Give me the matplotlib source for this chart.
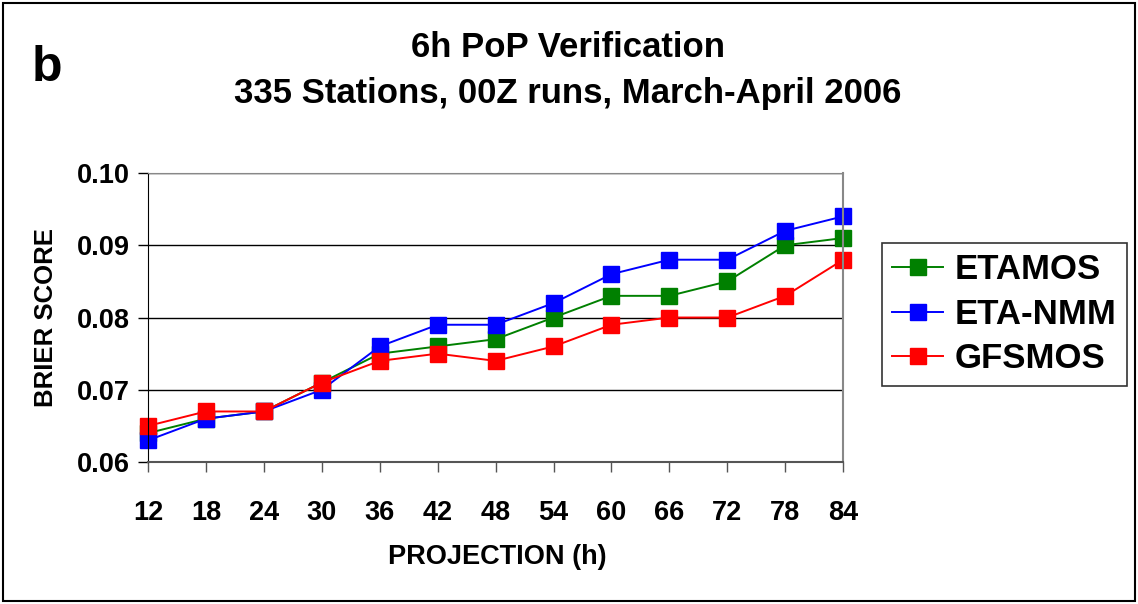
import matplotlib
matplotlib.use("Agg")
import matplotlib.pyplot as plt
from matplotlib.patches import Rectangle

plt.rcParams['font.family'] = ['Liberation Sans', 'DejaVu Sans']
plt.rcParams['font.weight'] = 'bold'

projection = [12, 18, 24, 30, 36, 42, 48, 54, 60, 66, 72, 78, 84]
etamos = [0.064, 0.066, 0.067, 0.071, 0.075, 0.076, 0.077, 0.080, 0.083, 0.083, 0.085, 0.090, 0.091]
eta_nmm = [0.063, 0.066, 0.067, 0.070, 0.076, 0.079, 0.079, 0.082, 0.086, 0.088, 0.088, 0.092, 0.094]
gfsmos = [0.065, 0.067, 0.067, 0.071, 0.074, 0.075, 0.074, 0.076, 0.079, 0.080, 0.080, 0.083, 0.088]
yticks = [0.06, 0.07, 0.08, 0.09, 0.10]

fig = plt.figure(figsize=(11.38, 6.04), dpi=100)
fig.patches.append(Rectangle((0.003, 0.005), 0.994, 0.99, transform=fig.transFigure,
                             fill=False, edgecolor='black', linewidth=1.5))

ax = fig.add_axes([0.130, 0.235, 0.611, 0.4786])

series = [("ETAMOS", etamos, "#008000"), ("ETA-NMM", eta_nmm, "#0000ff"), ("GFSMOS", gfsmos, "#ff0000")]
for name, vals, col in series:
    ax.plot(projection, vals, color=col, lw=1.4, marker='s', markersize=11,
            markeredgecolor=col, label=name, clip_on=False)

ax.set_xlim(12, 84)
ax.set_ylim(0.06, 0.10)
ax.set_xticks(projection)
ax.set_yticks(yticks)
ax.set_yticklabels(["%.2f" % v for v in yticks])
ax.yaxis.grid(True, color='black', lw=1)
ax.set_axisbelow(True)
ax.tick_params(axis='both', direction='out', length=7, width=1, labelsize=19.5, pad=6)
ax.tick_params(axis='x', colors='#555555', pad=20)
for lab in ax.get_xticklabels():
    lab.set_color('black')
for lab in ax.get_xticklabels() + ax.get_yticklabels():
    lab.set_fontweight('bold')
ax.spines['left'].set_color('black')
ax.spines['bottom'].set_color('#555555')
ax.spines['bottom'].set_linewidth(1.5)
ax.spines['top'].set_color('#888888')
ax.spines['right'].set_color('#888888')
ax.spines['right'].set_linewidth(1.5)

fig.text(0.499, 0.922, "6h PoP Verification", ha='center', va='center', fontsize=25, fontweight='bold')
fig.text(0.499, 0.846, "335 Stations, 00Z runs, March-April 2006", ha='center', va='center',
         fontsize=25, fontweight='bold')
fig.text(0.041, 0.887, "b", ha='center', va='center', fontsize=36, fontweight='bold')
fig.text(0.437, 0.078, "PROJECTION (h)", ha='center', va='center', fontsize=19.5, fontweight='bold')
fig.text(0.040, 0.474, "BRIER SCORE", ha='center', va='center', rotation=90, fontsize=18.5, fontweight='bold')

leg = fig.legend(loc='upper left', bbox_to_anchor=(882 / 1138, 1 - 243 / 604), fontsize=25, frameon=True,
                 fancybox=False, edgecolor='black', handlelength=1.45, handletextpad=0.35,
                 markerscale=1.05, labelspacing=0.33, borderpad=0.3, borderaxespad=0)
leg.get_frame().set_linewidth(1.2)
for t in leg.get_texts():
    t.set_fontweight('bold')

fig.savefig("out.png", dpi=100)
